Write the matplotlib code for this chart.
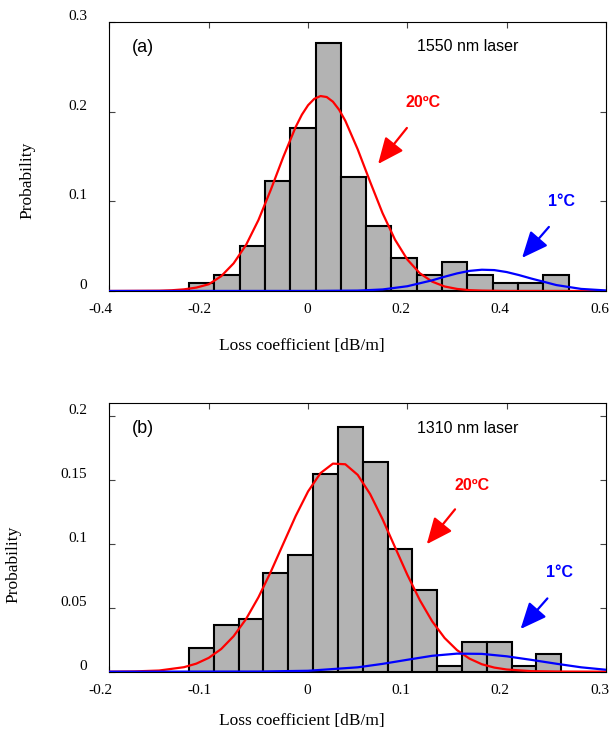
import numpy as np
import matplotlib
matplotlib.use('Agg')
import matplotlib.pyplot as plt
from matplotlib.transforms import ScaledTranslation

# -*- coding: utf-8 -*- #

## panel (a): 1550 nm
edgesA = [-0.24, -0.189, -0.138, -0.087, -0.036, 0.015, 0.066, 0.117,
          0.168, 0.219, 0.270, 0.321, 0.372, 0.423, 0.474, 0.525]
probA = [0.009, 0.018, 0.050, 0.123, 0.182, 0.277, 0.127, 0.073,
         0.037, 0.018, 0.032, 0.018, 0.009, 0.009, 0.018]
redXA = [-0.4, -0.3, -0.275, -0.25, -0.225, -0.2, -0.175, -0.15, -0.125, -0.1, -0.075, -0.05,
         -0.025, -0.0125, 0.0, 0.0125, 0.025, 0.0375, 0.05, 0.0625, 0.075, 0.1,
         0.125, 0.15, 0.175, 0.2, 0.225, 0.25, 0.275, 0.3, 0.325, 0.35, 0.4, 0.6]
redYA = [0.0, 0.0003, 0.0008, 0.0018, 0.0038, 0.0075, 0.0165, 0.0308, 0.0513, 0.0791, 0.113, 0.1494,
         0.1829, 0.1966, 0.2072, 0.2143, 0.2174, 0.2163, 0.2111, 0.2021, 0.1898, 0.1579,
         0.1217, 0.0868, 0.0573, 0.035, 0.0198, 0.0104, 0.005, 0.0023, 0.0009, 0.0004, 0.0, 0.0]
blueXA = [-0.4, 0.0, 0.1, 0.15, 0.2, 0.25, 0.275, 0.3, 0.325, 0.35, 0.375,
          0.4, 0.425, 0.45, 0.5, 0.55, 0.6]
blueYA = [0.0, 0.0, 0.0004, 0.0017, 0.0053, 0.0119, 0.0159, 0.0196, 0.0224, 0.0237, 0.0233,
          0.0211, 0.0177, 0.0138, 0.0066, 0.0023, 0.0006]

## panel (b): 1310 nm
edgesB = [-0.12, -0.095, -0.07, -0.045, -0.02, 0.005, 0.03, 0.055,
          0.08, 0.105, 0.13, 0.155, 0.18, 0.205, 0.23, 0.255]
probB = [0.0188, 0.0365, 0.0411, 0.0773, 0.0911, 0.1547, 0.1909, 0.1638,
         0.0956, 0.0638, 0.0044, 0.0229, 0.0229, 0.0044, 0.0138]
redXB = [-0.2, -0.175, -0.15, -0.125, -0.1125, -0.1, -0.0875, -0.075, -0.0625, -0.05, -0.0375, -0.025,
         -0.0125, 0.0, 0.0125, 0.025, 0.0375, 0.05, 0.0625, 0.075, 0.0875, 0.1,
         0.1125, 0.125, 0.1375, 0.15, 0.1625, 0.175, 0.1875, 0.2, 0.225, 0.25, 0.3]
redYB = [0.0, 0.0002, 0.0009, 0.0035, 0.0063, 0.0108, 0.0177, 0.0277, 0.0411, 0.0581, 0.0781, 0.0999,
         0.1216, 0.1408, 0.1551, 0.1625, 0.1620, 0.1537, 0.1387, 0.1191, 0.0973, 0.0756,
         0.0559, 0.0393, 0.0263, 0.0168, 0.0102, 0.0058, 0.0032, 0.0017, 0.0004, 0.0001, 0.0]
blueXB = [-0.2, -0.05, 0.0, 0.05, 0.075, 0.1, 0.125, 0.15, 0.175, 0.2, 0.225,
          0.25, 0.275, 0.3]
blueYB = [0.0, 0.0001, 0.0007, 0.0034, 0.0061, 0.0093, 0.0124, 0.0141, 0.0139, 0.0120,
          0.0092, 0.0062, 0.0034, 0.0015]

serif = 'Liberation Serif'
sans = 'Liberation Sans'


def drawPanel(ax, edges, prob, redX, redY, blueX, blueY, xlim, ylim, xticks, yticks,
              tag, laser, arrows):
    fig = ax.figure
    ax.bar(edges[:-1], prob, width=np.diff(edges), align='edge',
           color='#b3b3b3', edgecolor='black', linewidth=1.5, zorder=2)
    ax.plot(redX, redY, color='red', lw=1.6, zorder=3)
    ax.plot(blueX, blueY, color='blue', lw=1.6, zorder=4)
    ax.set_xlim(xlim)
    ax.set_ylim(ylim)
    ax.set_xticks(xticks)
    ax.set_yticks(yticks)
    ax.set_xticklabels(['%g' % v for v in xticks])
    ax.set_yticklabels(['%g' % v for v in yticks])
    ax.tick_params(direction='in', length=4, width=0.8, color='#444444',
                   top=True, right=True, labelsize=11)
    ax.tick_params(axis='y', pad=16)
    ax.tick_params(axis='x', pad=9)
    for lab in ax.get_xticklabels() + ax.get_yticklabels():
        lab.set_fontfamily(serif)
    # labels in the original sit a bit off the ticks
    for lab in ax.get_xticklabels():
        lab.set_ha('right')
        lab.set_transform(lab.get_transform() + ScaledTranslation(3 / 100, 0, fig.dpi_scale_trans))
    for lab in ax.get_yticklabels():
        lab.set_transform(lab.get_transform() + ScaledTranslation(0, 7 / 100, fig.dpi_scale_trans))
    for s in ax.spines.values():
        s.set_linewidth(0.8)
    ax.set_xlabel('Loss coefficient [dB/m]', fontsize=12.5, family=serif)
    ax.set_ylabel('Probability', fontsize=12.5, family=serif)
    ax.text(0.0675, 0.905, tag, transform=ax.transAxes, fontsize=13, family=sans,
            ha='center', va='center')
    ax.text(0.722, 0.908, laser, transform=ax.transAxes, fontsize=11.5, family=sans,
            ha='center', va='center')
    for txt, col, tpos, tail, tip in arrows:
        ax.text(tpos[0], tpos[1], txt, transform=ax.transAxes, color=col, fontsize=11.5,
                fontweight='bold', family=sans, ha='center', va='center')
        ax.annotate('', xy=tip, xytext=tail, xycoords='axes fraction',
                    textcoords='axes fraction',
                    arrowprops=dict(arrowstyle='-|>,head_length=0.8,head_width=0.35',
                                    color=col, lw=1.6, mutation_scale=20,
                                    shrinkA=0, shrinkB=0))


fig = plt.figure(figsize=(6.1, 7.3), dpi=100)
ax1 = fig.add_axes([0.1795, 0.6014, 0.8139, 0.3685])
ax2 = fig.add_axes([0.1795, 0.0799, 0.8139, 0.3676])

drawPanel(ax1, edgesA, probA, redXA, redYA, blueXA, blueYA,
          (-0.4, 0.6), (0, 0.3), [-0.4, -0.2, 0, 0.2, 0.4, 0.6], [0, 0.1, 0.2, 0.3],
          '(a)', '1550 nm laser',
          [('20ºC', 'red', (0.631, 0.699), (0.599, 0.606), (0.541, 0.472)),
           ('1°C', 'blue', (0.911, 0.331), (0.885, 0.238), (0.831, 0.123))])
drawPanel(ax2, edgesB, probB, redXB, redYB, blueXB, blueYB,
          (-0.2, 0.3), (0, 0.2096), [-0.2, -0.1, 0, 0.1, 0.2, 0.3], [0, 0.05, 0.1, 0.15, 0.2],
          '(b)', '1310 nm laser',
          [('20ºC', 'red', (0.7295, 0.6956), (0.696, 0.605), (0.639, 0.475)),
           ('1°C', 'blue', (0.907, 0.368), (0.882, 0.273), (0.828, 0.159))])

ax1.xaxis.set_label_coords(0.388, -0.175)
ax2.xaxis.set_label_coords(0.388, -0.155)
ax1.yaxis.set_label_coords(-0.150, 0.41)
ax2.yaxis.set_label_coords(-0.178, 0.40)

fig.savefig('out.png', dpi=100)
